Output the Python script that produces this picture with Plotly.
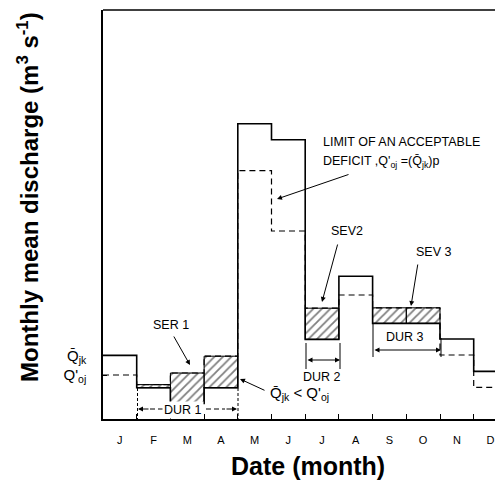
import plotly.graph_objects as go

# ---- data ----
months = ["J", "F", "M", "A", "M", "J", "J", "A", "S", "O", "N", "D"]
q_mean = [15.9, 7.8, 3.9, 7.8, 73.8, 69.8, 19.9, 35.7, 23.9, 23.9, 20.0, 11.9]   # Q̄jk (solid)
q_limit = [11.0, 8.6, 11.5, 15.7, 62.1, 47.0, 27.7, 31.0, 27.8, 27.8, 16.0, 7.9]  # Q'oj (dashed)
QBAR = "Q\u0304\u200b<sub>jk</sub>"
QOJ = "Q'<sub>oj</sub>"
ytick_text = [QBAR, QOJ]

# ---- layout geometry (window pixels; page body has an 8px margin) ----
OFF = 8
WIN_W, WIN_H = 503, 492
L, T, B = 103, 10, 419          # plot edges in window pixels
W, H = WIN_W - OFF, WIN_H - OFF  # figure size
MW = 33.7                        # pixels per month
YS = (B - T) / 102.25            # pixels per unit
PW = WIN_W - L                   # plot width (px)


def X(px):
    return (px - L) / MW


def Y(py):
    return (B - py) / YS


def PX(px):
    return (px - L) / PW


def PY(py):
    return (B - py) / (B - T)


FONT = "Arial, Liberation Sans, Helvetica, sans-serif"
xs = list(range(len(months) + 1))

fig = go.Figure()

# hatched deficit areas (where limit > mean)
hx, hy = [], []
for k, (s, d) in enumerate(zip(q_mean, q_limit)):
    if d > s:
        hx += [k, k + 1, k + 1, k, k, None]
        hy += [s, s, d, d, s, None]
fig.add_trace(go.Scatter(
    x=hx, y=hy, mode="lines", fill="toself", fillcolor="white",
    fillpattern=dict(shape="/", fgcolor="black", bgcolor="white", size=6, solidity=0.3),
    line=dict(color="black", width=1), hoverinfo="skip", showlegend=False))

# mean discharge step line
fig.add_trace(go.Scatter(
    x=xs, y=q_mean + [q_mean[-1]], mode="lines",
    line=dict(shape="hv", color="black", width=1.6), hoverinfo="skip", showlegend=False))

# acceptable deficit limit, dashed
fig.add_trace(go.Scatter(
    x=xs, y=q_limit + [q_limit[-1]], mode="lines",
    line=dict(shape="hv", color="black", width=1.2, dash="6px,4px"),
    hoverinfo="skip", showlegend=False))

shapes = [
    # top frame line
    dict(type="line", xref="paper", yref="paper", x0=0, x1=1, y0=1, y1=1,
         line=dict(color="black", width=1.5)),
    # DUR 1 markers
    dict(type="line", x0=X(137.5), x1=X(137.5), y0=Y(388), y1=Y(419),
         line=dict(color="black", width=1, dash="3px,2px")),
    dict(type="line", x0=X(238), x1=X(238), y0=Y(388), y1=Y(419),
         line=dict(color="black", width=1, dash="3px,2px")),
    dict(type="line", x0=X(150), x1=X(225), y0=Y(409), y1=Y(409),
         line=dict(color="black", width=1, dash="5px,3px")),
    # DUR 2 markers
    dict(type="line", x0=X(306), x1=X(306), y0=Y(343), y1=Y(369),
         line=dict(color="black", width=1)),
    dict(type="line", x0=X(340), x1=X(340), y0=Y(343), y1=Y(369),
         line=dict(color="black", width=1)),
    # DUR 3 markers
    dict(type="line", x0=X(373), x1=X(373), y0=Y(323), y1=Y(357),
         line=dict(color="black", width=1)),
    dict(type="line", x0=X(441), x1=X(441), y0=Y(338), y1=Y(357),
         line=dict(color="black", width=1)),
]


def arrow(x0, y0, x1, y1, side="end"):
    return dict(x=X(x1), y=Y(y1), ax=X(x0), ay=Y(y0), axref="x", ayref="y",
                xref="x", yref="y", text="", showarrow=True, arrowhead=2,
                arrowsize=1, arrowwidth=1, arrowcolor="black", arrowside=side)


def label(txt, px, py, size=12.5, anchor="center", bg=None):
    d = dict(x=X(px), y=Y(py), xref="x", yref="y", text=txt, showarrow=False,
             xanchor=anchor, yanchor="middle", font=dict(size=size, color="black", family=FONT))
    if bg:
        d["bgcolor"] = bg
    return d


annotations = [
    label("LIMIT OF AN ACCEPTABLE", 321, 142, anchor="left"),
    label("DEFICIT ,%s =(%s)p" % (QOJ, QBAR), 321, 162, anchor="left"),
    arrow(350, 174, 277, 199),
    label("SEV2", 347, 231),
    arrow(338, 243, 322, 302),
    label("SEV 3", 433, 252),
    arrow(418, 263, 411, 306),
    label("SER 1", 171, 325),
    arrow(173, 335, 190, 365),
    label("%s &lt; %s" % (QBAR, QOJ), 268, 393, size=15, anchor="left"),
    arrow(266, 391, 240, 379),
    label("DUR 1", 183, 410, bg="white"),
    arrow(150, 409, 138, 409),
    arrow(225, 409, 237, 409),
    arrow(306, 360, 340, 360, side="end+start"),
    label("DUR 2", 322, 377),
    arrow(373, 350, 441, 350, side="end+start"),
    label("DUR 3", 405, 337),
    # axis titles (paper coordinates so they can sit outside the plot)
    dict(x=PX(28), y=PY(197), xref="paper", yref="paper",
         text="<b>Monthly mean discharge (m<sup>3</sup> s<sup>-1</sup>)</b>",
         textangle=-90, showarrow=False, xanchor="center", yanchor="middle",
         font=dict(size=24, color="black", family=FONT)),
    dict(x=PX(308), y=PY(466), xref="paper", yref="paper", text="<b>Date (month)</b>",
         showarrow=False, xanchor="center", yanchor="middle",
         font=dict(size=25, color="black", family=FONT)),
]

fig.update_layout(
    width=W, height=H,
    margin=dict(l=L - OFF, r=0, t=T - OFF, b=H - (B - OFF), pad=0),
    paper_bgcolor="white", plot_bgcolor="white",
    font=dict(family=FONT, color="black"),
    showlegend=False,
    shapes=shapes,
    annotations=annotations,
    xaxis=dict(
        range=[0, PW / MW], showgrid=False, zeroline=False, automargin=False,
        showline=True, linecolor="black", linewidth=1.5,
        tickmode="array", tickvals=[k + 0.5 for k in range(len(months))], ticktext=months,
        ticks="", tickfont=dict(size=11, family=FONT), ticklabelstandoff=10,
        minor=dict(tickmode="array", tickvals=list(range(1, len(months) + 1)),
                   ticks="inside", ticklen=5, tickcolor="black", tickwidth=1, showgrid=False),
        fixedrange=True),
    yaxis=dict(
        range=[0, (B - T) / YS], showgrid=False, zeroline=False, automargin=False,
        showline=True, linecolor="black", linewidth=1.5,
        tickmode="array", tickvals=[q_mean[0], q_limit[0]], ticktext=ytick_text,
        ticks="inside", ticklen=4, tickcolor="black",
        tickfont=dict(size=15, family=FONT), ticklabelstandoff=12,
        fixedrange=True),
)

fig.write_html("out.html")
